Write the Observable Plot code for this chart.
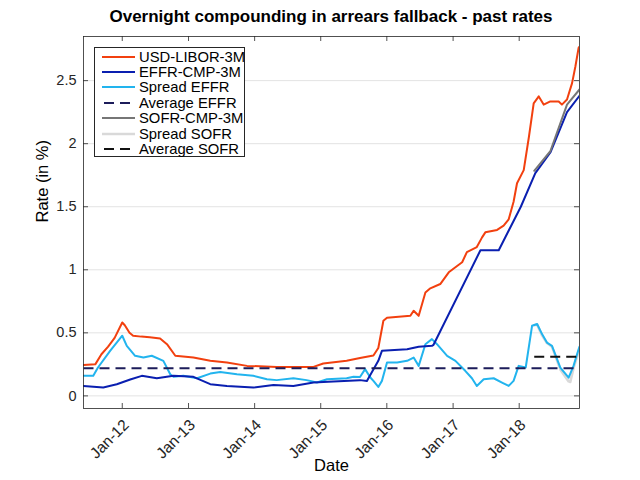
<!DOCTYPE html>
<html><head><meta charset="utf-8">
<script src="https://cdn.jsdelivr.net/npm/d3@7"></script>
<script src="https://cdn.jsdelivr.net/npm/@observablehq/plot@0.6"></script>
<style>
body{margin:0;background:#fff;font-family:"Liberation Sans",Arial,Helvetica,sans-serif;}
#wrap{position:relative;width:640px;height:480px;overflow:hidden;}
#chart{position:absolute;left:0;top:0;}
#title{position:absolute;left:83px;width:496px;top:7px;text-align:center;font-weight:bold;font-size:17px;color:#000;white-space:nowrap;}
#legend{position:absolute;left:94px;top:47px;width:151px;height:110px;border:1px solid #262626;background:#fff;padding-top:1px;box-sizing:border-box;}
.row{height:15.4px;display:flex;align-items:center;font-size:14.8px;color:#000;white-space:nowrap;}
.row svg{margin-left:7px;margin-right:4px;flex:none;}
</style></head><body>
<div id="wrap"><div id="chart"></div><div id="title">Overnight compounding in arrears fallback - past rates</div><div id="legend"></div></div>
<script>
// ---- data ----
const liborDates = ["2011-06-01","2011-08-05","2011-09-08","2011-10-15","2011-11-20","2012-01-01","2012-01-15","2012-02-10","2012-03-01","2012-04-15","2012-06-01","2012-07-28","2012-09-04","2012-10-20","2013-01-28","2013-05-01","2013-08-01","2013-11-20","2014-05-03","2014-11-22","2015-01-15","2015-05-24","2015-08-06","2015-10-19","2015-11-15","2015-12-13","2016-01-02","2016-05-10","2016-05-28","2016-06-25","2016-08-01","2016-08-25","2016-10-22","2016-12-08","2017-01-23","2017-02-20","2017-03-18","2017-05-12","2017-06-10","2017-06-28","2017-09-01","2017-10-07","2017-11-04","2017-12-01","2017-12-20","2018-01-26","2018-02-24","2018-03-22","2018-04-19","2018-05-16","2018-06-22","2018-08-07","2018-08-25","2018-09-22","2018-10-20","2018-11-07","2018-11-25","2018-11-30"];
const liborValues = [0.245,0.25,0.33,0.39,0.46,0.582,0.56,0.50,0.477,0.47,0.465,0.455,0.41,0.318,0.304,0.278,0.265,0.238,0.23,0.23,0.257,0.278,0.30,0.32,0.38,0.596,0.62,0.635,0.675,0.635,0.82,0.85,0.887,0.98,1.03,1.06,1.14,1.18,1.257,1.297,1.316,1.35,1.40,1.54,1.686,1.79,2.057,2.32,2.375,2.31,2.335,2.335,2.31,2.35,2.48,2.61,2.76,2.77];

const effrDates = ["2011-06-01","2011-09-18","2011-12-02","2012-02-14","2012-04-18","2012-07-10","2012-10-10","2013-01-28","2013-05-01","2013-08-01","2013-12-25","2014-04-15","2014-08-03","2014-11-22","2015-03-12","2015-08-06","2015-09-13","2015-11-15","2015-12-05","2016-04-22","2016-06-25","2016-09-06","2016-09-15","2017-06-01","2017-09-10","2018-01-10","2018-03-31","2018-06-22","2018-09-22","2018-11-30"];
const effrValues = [0.079,0.066,0.092,0.13,0.159,0.14,0.159,0.151,0.093,0.079,0.066,0.087,0.079,0.106,0.114,0.125,0.119,0.278,0.357,0.37,0.39,0.397,0.405,1.155,1.155,1.50,1.766,1.93,2.25,2.38];

const spreadEffrDates = ["2011-06-01","2011-07-25","2011-08-20","2011-10-26","2012-01-01","2012-01-26","2012-03-12","2012-04-27","2012-06-12","2012-08-15","2012-09-22","2012-10-10","2012-12-04","2013-02-17","2013-05-01","2013-06-25","2013-09-25","2013-12-25","2014-03-10","2014-05-03","2014-08-03","2014-10-15","2014-12-11","2015-02-05","2015-05-24","2015-07-01","2015-08-06","2015-09-03","2015-10-01","2015-10-19","2015-11-15","2015-12-05","2016-01-02","2016-02-27","2016-04-22","2016-05-28","2016-06-25","2016-08-01","2016-09-06","2016-10-04","2016-11-29","2017-01-14","2017-03-09","2017-04-15","2017-05-12","2017-06-19","2017-08-13","2017-09-28","2017-11-04","2017-12-01","2017-12-29","2018-02-06","2018-03-13","2018-04-10","2018-05-07","2018-06-03","2018-07-01","2018-08-16","2018-10-01","2018-10-28","2018-11-25","2018-11-30"];
const spreadEffrValues = [0.159,0.159,0.225,0.357,0.477,0.397,0.318,0.304,0.318,0.278,0.172,0.151,0.159,0.14,0.177,0.19,0.172,0.159,0.132,0.125,0.14,0.125,0.106,0.132,0.14,0.151,0.15,0.212,0.148,0.119,0.071,0.119,0.265,0.265,0.278,0.304,0.238,0.41,0.45,0.41,0.318,0.278,0.199,0.14,0.079,0.132,0.14,0.106,0.079,0.119,0.238,0.225,0.556,0.57,0.49,0.423,0.397,0.225,0.145,0.238,0.37,0.39];

const sofrDates = ["2018-03-25","2018-06-22","2018-09-22","2018-11-30"];
const sofrValues = [1.785,1.94,2.31,2.43];

const spreadSofrDates = ["2018-03-25","2018-04-10","2018-05-07","2018-06-03","2018-07-01","2018-08-16","2018-10-01","2018-10-10","2018-10-28","2018-11-25","2018-11-30"];
const spreadSofrValues = [0.56,0.565,0.48,0.42,0.39,0.21,0.115,0.11,0.22,0.35,0.37];

const avgEffrDates = ["2011-06-01","2018-11-30"];
const avgEffrValues = [0.22,0.22];
const avgSofrDates = ["2018-03-25","2018-11-30"];
const avgSofrValues = [0.31,0.31];

const seriesNames = ["USD-LIBOR-3M","EFFR-CMP-3M","Spread EFFR","Average EFFR","SOFR-CMP-3M","Spread SOFR","Average SOFR"];
const seriesColors = ["#f2400f","#0a1fb0","#22b4ee","#1c1c5a","#767676","#d9d9d9","#111111"];
const seriesDash = [null,null,null,"10,6",null,null,"10,6"];
const seriesWidth = [2,2,2,2,2,2.6,2];

const xTickLabels = ["2012-01-01","2013-01-01","2014-01-01","2015-01-01","2016-01-01","2017-01-01","2018-01-01"];
const yTickValues = [0,0.5,1,1.5,2,2.5];
const xDomain = ["2011-06-01","2018-11-30"];
const yDomain = [-0.1,2.85];

// ---- build ----
const toRows = (ds, vs) => ds.map((d,i)=>({date:new Date(d+"T00:00:00Z"), value:vs[i]}));
const seriesData = [
  toRows(liborDates, liborValues),
  toRows(effrDates, effrValues),
  toRows(spreadEffrDates, spreadEffrValues),
  toRows(avgEffrDates, avgEffrValues),
  toRows(sofrDates, sofrValues),
  toRows(spreadSofrDates, spreadSofrValues),
  toRows(avgSofrDates, avgSofrValues)
];
const drawOrder = [5,2,0,1,3,4,6];
const W=640,H=480,mL=83,mR=61,mT=36,mB=72;
const plotW=W-mL-mR, plotH=H-mT-mB;
const xTicks = xTickLabels.map(d=>new Date(d+"T00:00:00Z"));
const axisColor="#262626";
const fmtX = d3.utcFormat("%b-%y");

const lineMarks = drawOrder.map(i => Plot.line(seriesData[i], {
  x:"date", y:"value", stroke:seriesColors[i], strokeWidth:seriesWidth[i], clip:true,
  strokeDasharray: seriesDash[i] || undefined, strokeLinejoin:"round", strokeLinecap: seriesDash[i] ? "butt" : "round"
}));

const chart = Plot.plot({
  width:W, height:H, marginLeft:mL, marginRight:mR, marginTop:mT, marginBottom:mB,
  style:{fontFamily:'"Liberation Sans",Arial,Helvetica,sans-serif', fontSize:"14px", color:axisColor, background:"#fff"},
  x:{type:"utc", domain:xDomain.map(d=>new Date(d+"T00:00:00Z")), axis:null},
  y:{domain:yDomain, axis:null},
  marks:[
    Plot.gridY(yTickValues, {stroke:"#e3e3e3", strokeOpacity:1, strokeWidth:1}),
    ...lineMarks,
    Plot.frame({stroke:axisColor, strokeWidth:0.8}),
    Plot.tickX(xTicks, {x:d=>d, insetTop:plotH-5, stroke:axisColor, strokeWidth:0.8}),
    Plot.tickX(xTicks, {x:d=>d, insetBottom:plotH-5, stroke:axisColor, strokeWidth:0.8}),
    Plot.tickY(yTickValues, {y:d=>d, insetRight:plotW-5, stroke:axisColor, strokeWidth:0.8}),
    Plot.tickY(yTickValues, {y:d=>d, insetLeft:plotW-5, stroke:axisColor, strokeWidth:0.8}),
    Plot.text(xTicks, {x:d=>d, frameAnchor:"bottom", text:d=>fmtX(d), rotate:-45, textAnchor:"end", lineAnchor:"middle", dx:4, dy:14, fontSize:15.5, fill:axisColor}),
    Plot.text(yTickValues, {y:d=>d, frameAnchor:"left", text:d=>String(d), textAnchor:"end", dx:-7, fontSize:14.5, fill:axisColor}),
    Plot.text(["Date"], {frameAnchor:"bottom", dy:62, text:d=>d, fontSize:16.5, fill:"#000"}),
    Plot.text(["Rate (in %)"], {frameAnchor:"left", dx:-41, rotate:-90, text:d=>d, fontSize:16.5, fill:"#000"})
  ]
});
document.getElementById("chart").appendChild(chart);

// legend
const legend = document.getElementById("legend");
seriesNames.forEach((name,i)=>{
  const row=document.createElement("div"); row.className="row";
  const dash = seriesDash[i] ? `stroke-dasharray="${seriesDash[i]}"` : "";
  row.innerHTML = `<svg width="33" height="6"><line x1="${seriesDash[i]?2:0}" y1="3" x2="33" y2="3" stroke="${seriesColors[i]}" stroke-width="${seriesWidth[i]}" ${dash}/></svg><span></span>`;
  row.querySelector("span").textContent = name;
  legend.appendChild(row);
});
</script>
</body></html>
